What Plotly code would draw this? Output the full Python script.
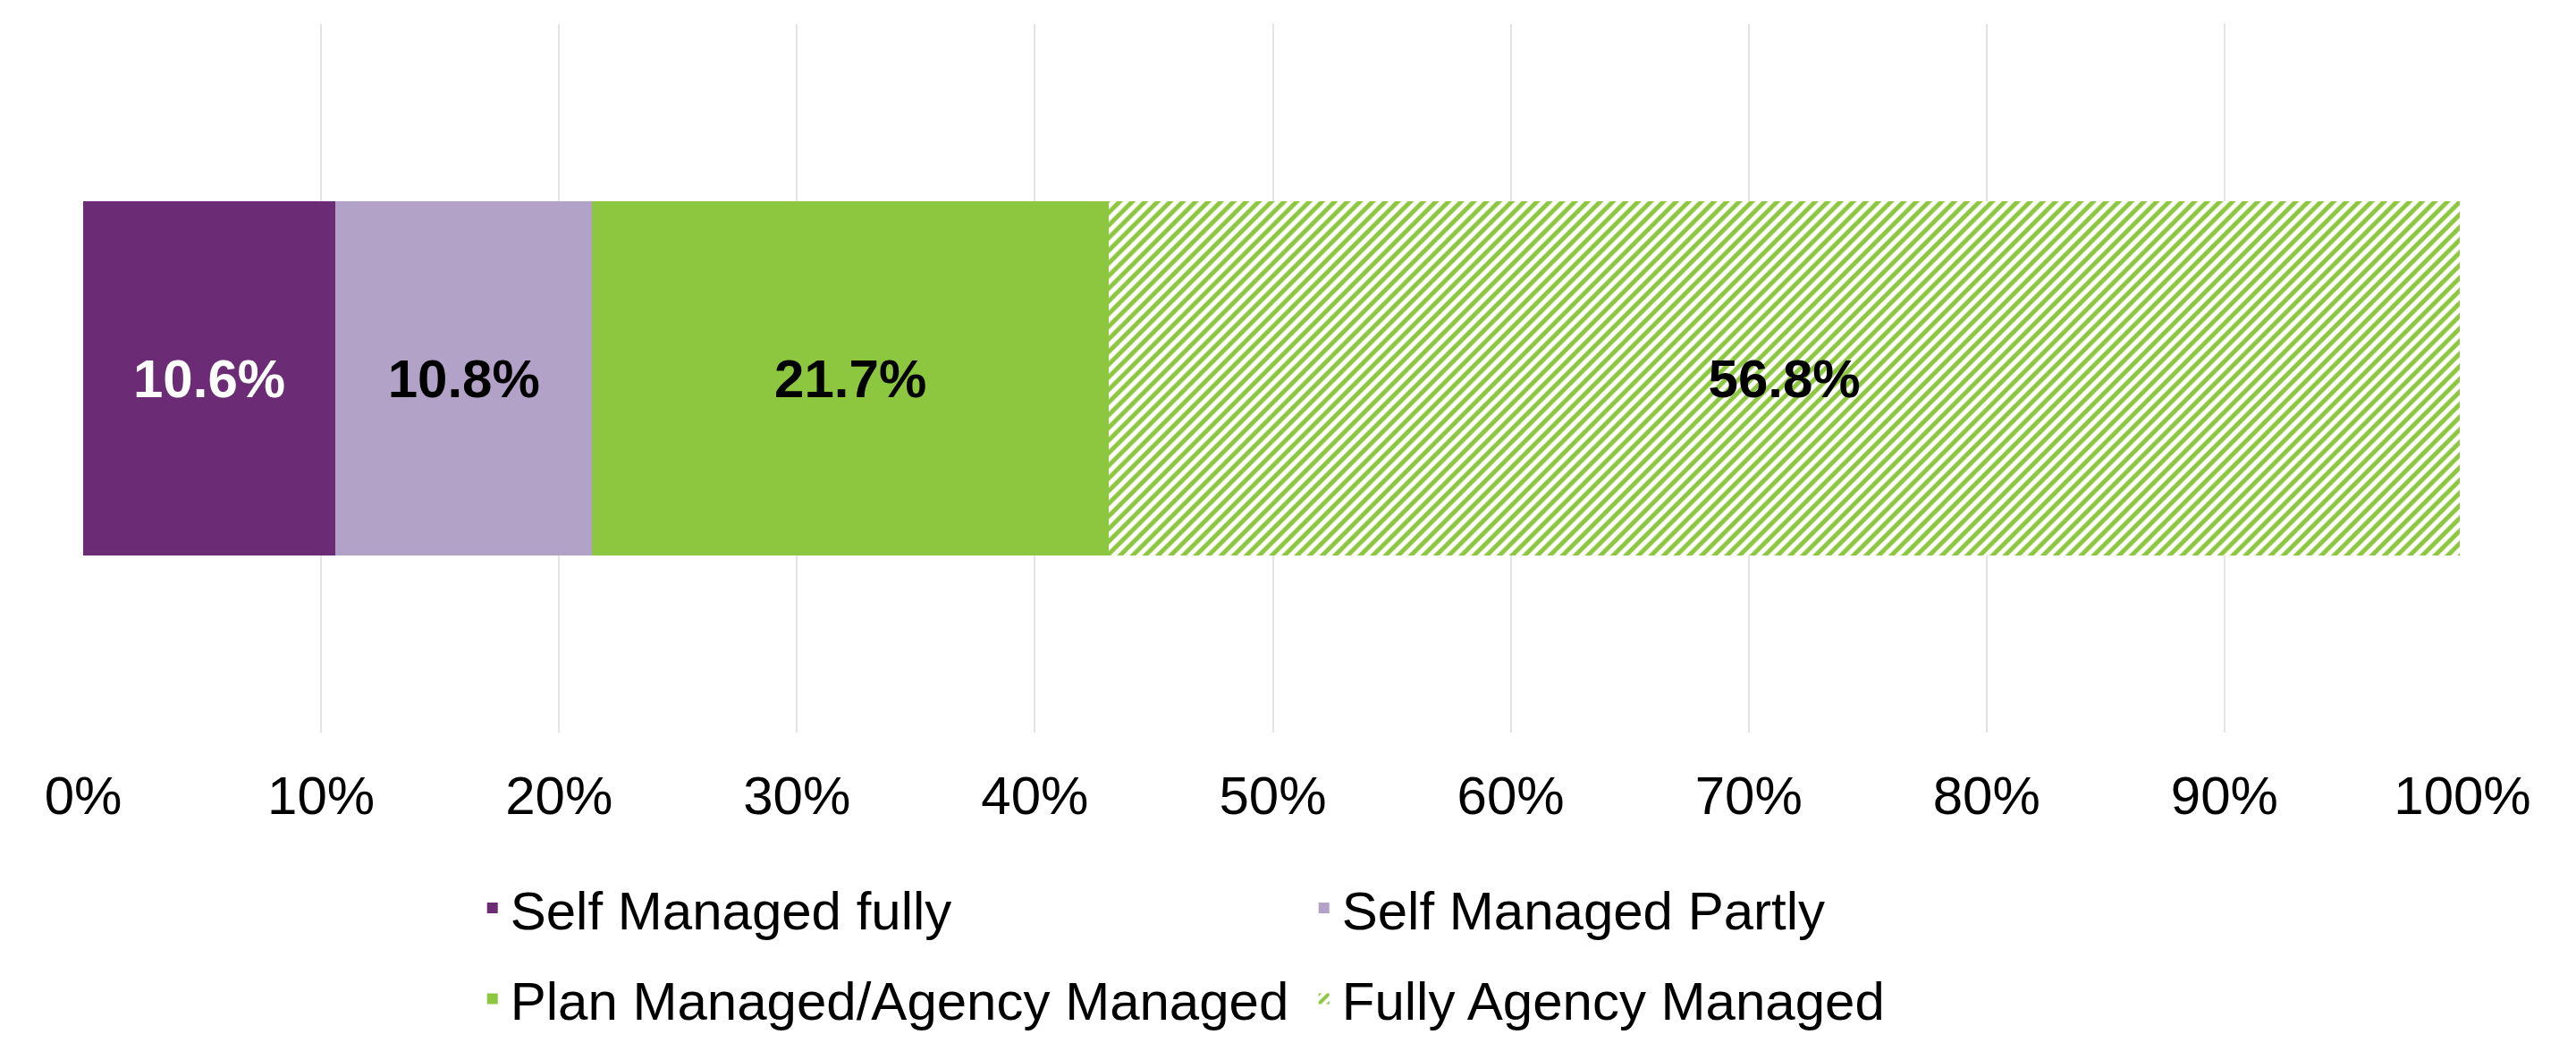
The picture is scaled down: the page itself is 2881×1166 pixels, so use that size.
import plotly.graph_objects as go

# shares of participants by plan management type
categories = ["Self Managed fully", "Self Managed Partly",
              "Plan Managed/Agency Managed", "Fully Agency Managed"]
shares = [0.106, 0.108, 0.217, 0.568]
colors = ["#6B2C75", "#B3A2C7", "#8DC63F", "#8DC63F"]
label_colors = ["#FFFFFF", "#000000", "#000000", "#000000"]
patterns = ["", "", "", "/"]
legend_ids = ["legend", "legend", "legend2", "legend2"]

tick_vals = [i / 10 for i in range(11)]
tick_text = [f"{i * 10}%" for i in range(11)]

FONT = "Liberation Sans, Arial, sans-serif"

fig = go.Figure()
for name, val, col, lcol, pat, lg in zip(categories, shares, colors,
                                         label_colors, patterns, legend_ids):
    marker = dict(color=col, line=dict(width=0))
    if pat:
        # striped fill: green diagonal stripes on white
        marker = dict(color="#FFFFFF", line=dict(width=0),
                      pattern=dict(shape=pat, fgcolor=col, bgcolor="#FFFFFF",
                                   fgopacity=1, size=10, solidity=0.5,
                                   fillmode="replace"))
    fig.add_trace(go.Bar(
        x=[val],
        y=["All"],
        orientation="h",
        name=name,
        marker=marker,
        text=[f"<b>{val * 100:.1f}%</b>"],
        textposition="inside",
        insidetextanchor="middle",
        textangle=0,
        textfont=dict(family=FONT, size=60, color=lcol),
        legend=lg,
        hoverinfo="skip",
    ))

legend_style = dict(
    orientation="h",
    xanchor="left",
    yanchor="middle",
    x=0.1645,
    font=dict(family=FONT, size=60, color="#000000"),
    entrywidth=885,
    bgcolor="rgba(0,0,0,0)",
    traceorder="normal",
)

fig.update_layout(
    width=2881,
    height=1166,
    barmode="stack",
    bargap=0.5,
    plot_bgcolor="#FFFFFF",
    paper_bgcolor="#FFFFFF",
    margin=dict(l=85, r=135, t=19, b=327),
    font=dict(family=FONT, size=60, color="#000000"),
    xaxis=dict(
        range=[0, 1],
        tickvals=tick_vals,
        ticktext=tick_text,
        showgrid=True,
        gridcolor="#E3E3E3",
        gridwidth=1.5,
        zeroline=False,
        showline=False,
        ticks="",
        ticklabelstandoff=30,
        tickfont=dict(family=FONT, size=60, color="#000000"),
    ),
    yaxis=dict(visible=False),
    legend=dict(y=-0.2476, **legend_style),
    legend2=dict(y=-0.3756, **legend_style),
    showlegend=True,
)

fig.write_html("out.html")
